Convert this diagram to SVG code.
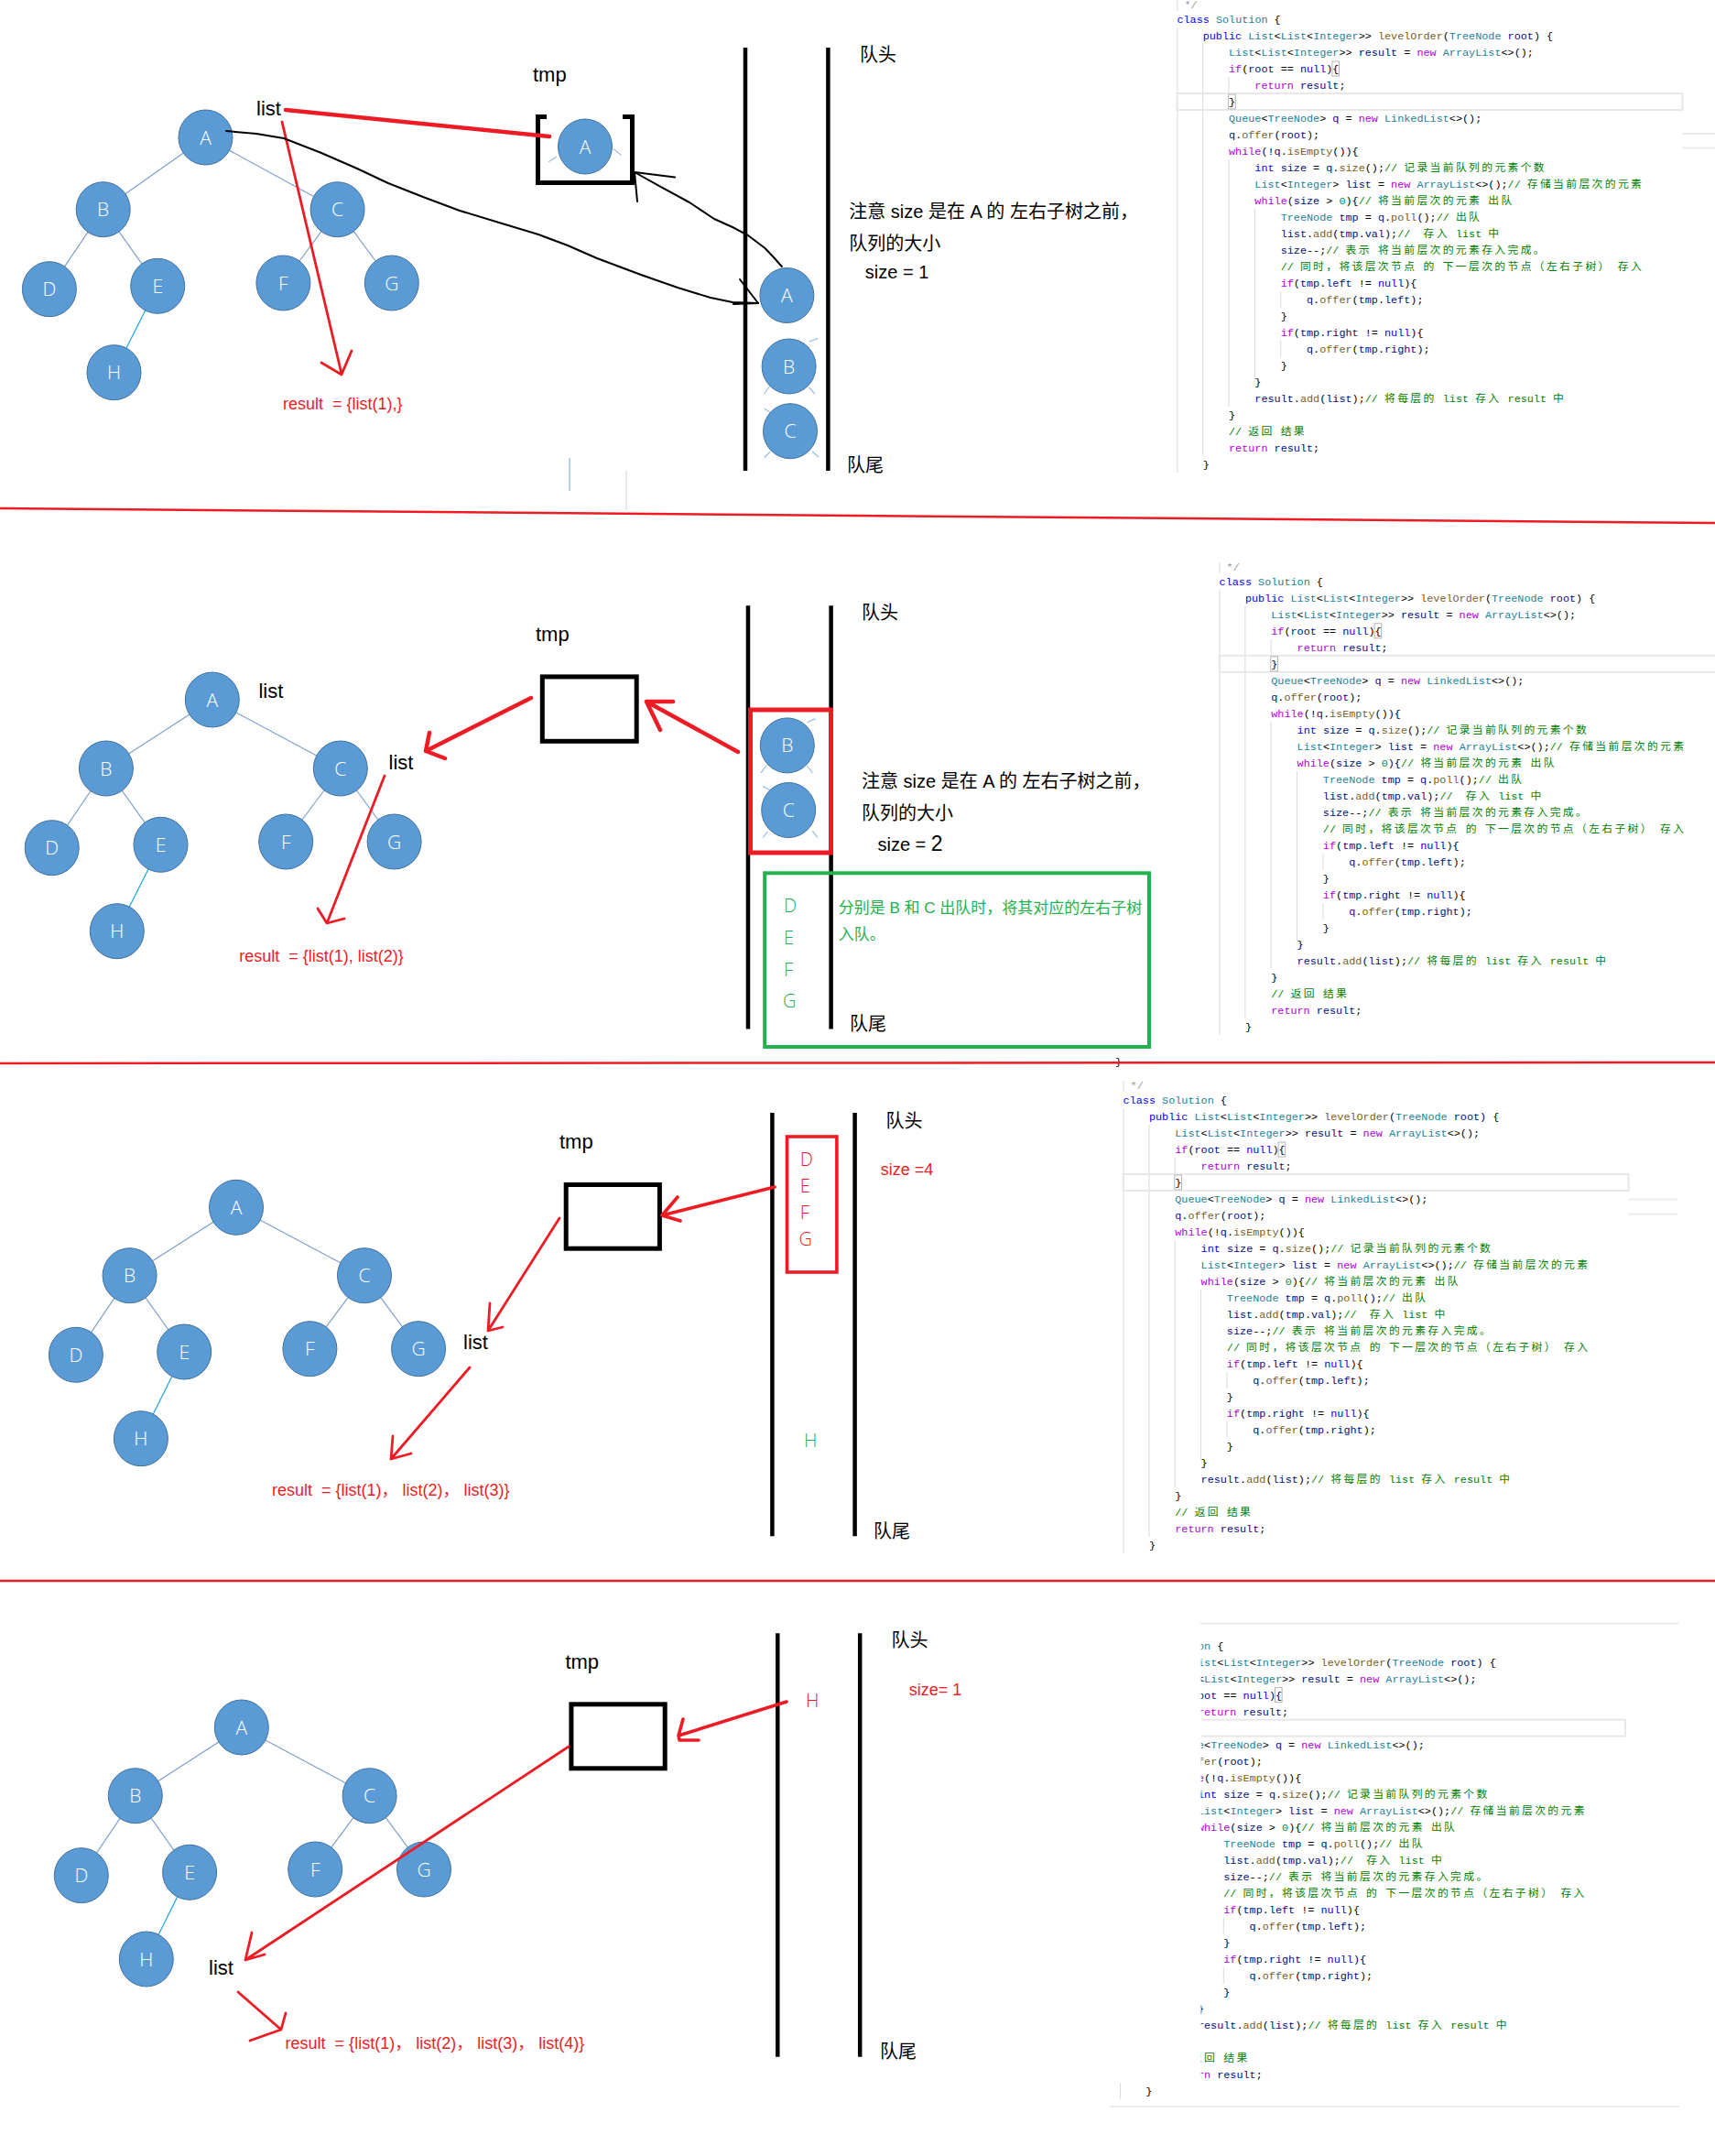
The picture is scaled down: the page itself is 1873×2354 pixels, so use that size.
<svg xmlns="http://www.w3.org/2000/svg" width="1873" height="2354" viewBox="0 0 1873 2354">
<style>
.nd ellipse{fill:#5B9BD5;stroke:#41719C;stroke-width:1}
.nd text{fill:#fff;font-family:"Open Sans","Liberation Sans",sans-serif;font-weight:300;font-size:21px;text-anchor:middle}
.edge{stroke:#7EA0CB;stroke-width:1.2}
.edgeH{stroke:#1BA1E2;stroke-width:1.2}
.stub{stroke:#9DBBE0;stroke-width:1.2;fill:none}
.lbl{font-family:"Liberation Sans","Noto Sans CJK SC",sans-serif;font-size:22px;fill:#000}
.cn{font-family:"Liberation Sans","Noto Sans CJK SC",sans-serif;font-size:20px;fill:#000;white-space:pre}
.res{font-family:"Liberation Sans","Noto Sans CJK SC",sans-serif;font-size:18px;fill:#ED1C24;white-space:pre}
.gt{font-family:"Liberation Sans","Noto Sans CJK SC",sans-serif;font-size:17px;fill:#22B14C}
.lt{font-family:"Open Sans","Liberation Sans",sans-serif;font-weight:300;font-size:20px}
.q{stroke:#000;stroke-width:4.5}
.box{fill:none;stroke:#000;stroke-width:5}
.rt{stroke:#ED1C24;fill:none;stroke-linecap:round;stroke-linejoin:round}
.thick{stroke-width:4.5}
.mid{stroke-width:3.6}
.thin{stroke-width:2.8}
.blk{stroke:#000;fill:none;stroke-width:2;stroke-linejoin:round;stroke-linecap:round}
.code{font-family:"Liberation Mono","Noto Sans CJK SC",monospace;font-size:11.8px;fill:#000;white-space:pre}
.k{fill:#0000FF}.t{fill:#267F99}.c{fill:#AF00DB}.v{fill:#001080}.f{fill:#795E26}.n{fill:#098658}.g{fill:#008000}.z{letter-spacing:2.36px}.gr{fill:#999}
.guide{stroke:#d9d9d9;stroke-width:1;fill:none}
.hl{fill:none;stroke:#e8e8e8;stroke-width:2}
.bm{fill:none;stroke:#b5b5b5;stroke-width:1}
.sep{stroke:#ED1C24;stroke-width:2.5}
.faint{stroke:#ececec;stroke-width:2;fill:none}
</style>
<defs>
<g id="code">
<path class="guide" d="M0.5,-21V-9M0.5,9V495M28.3,27V477M56.6,63V81M56.6,153V423M85,207V393M113.3,297V315M113.3,351V369"/>
<rect class="hl" x="0" y="81" width="552" height="18"/>
<rect class="bm" x="169.5" y="46" width="7.6" height="16"/>
<rect class="bm" x="56.2" y="82" width="7.6" height="16"/>
<text class="code gr" x="8" y="-12">*/</text>
<text class="code" x="0" y="4"><tspan class="k">class</tspan> <tspan class="t">Solution</tspan> {</text>
<text class="code" x="28.32" y="22"><tspan class="k">public</tspan> <tspan class="t">List</tspan>&lt;<tspan class="t">List</tspan>&lt;<tspan class="t">Integer</tspan>&gt;&gt; <tspan class="f">levelOrder</tspan>(<tspan class="t">TreeNode</tspan> <tspan class="v">root</tspan>) {</text>
<text class="code" x="56.64" y="40"><tspan class="t">List</tspan>&lt;<tspan class="t">List</tspan>&lt;<tspan class="t">Integer</tspan>&gt;&gt; <tspan class="v">result</tspan> = <tspan class="c">new</tspan> <tspan class="t">ArrayList</tspan>&lt;&gt;();</text>
<text class="code" x="56.64" y="58"><tspan class="c">if</tspan>(<tspan class="v">root</tspan> == <tspan class="k">null</tspan>){</text>
<text class="code" x="84.96" y="76"><tspan class="c">return</tspan> <tspan class="v">result</tspan>;</text>
<text class="code" x="56.64" y="94">}</text>
<text class="code" x="56.64" y="112"><tspan class="t">Queue</tspan>&lt;<tspan class="t">TreeNode</tspan>&gt; <tspan class="v">q</tspan> = <tspan class="c">new</tspan> <tspan class="t">LinkedList</tspan>&lt;&gt;();</text>
<text class="code" x="56.64" y="130"><tspan class="v">q</tspan>.<tspan class="f">offer</tspan>(<tspan class="v">root</tspan>);</text>
<text class="code" x="56.64" y="148"><tspan class="c">while</tspan>(!<tspan class="v">q</tspan>.<tspan class="f">isEmpty</tspan>()){</text>
<text class="code" x="84.96" y="166"><tspan class="k">int</tspan> <tspan class="v">size</tspan> = <tspan class="v">q</tspan>.<tspan class="f">size</tspan>();<tspan class="g">// <tspan class="z">记录当前队列的元素个数</tspan></tspan></text>
<text class="code" x="84.96" y="184"><tspan class="t">List</tspan>&lt;<tspan class="t">Integer</tspan>&gt; <tspan class="v">list</tspan> = <tspan class="c">new</tspan> <tspan class="t">ArrayList</tspan>&lt;&gt;();<tspan class="g">// <tspan class="z">存储当前层次的元素</tspan></tspan></text>
<text class="code" x="84.96" y="202"><tspan class="c">while</tspan>(<tspan class="v">size</tspan> &gt; <tspan class="n">0</tspan>){<tspan class="g">// <tspan class="z">将当前层次的元素</tspan> <tspan class="z">出队</tspan></tspan></text>
<text class="code" x="113.28" y="220"><tspan class="t">TreeNode</tspan> <tspan class="v">tmp</tspan> = <tspan class="v">q</tspan>.<tspan class="f">poll</tspan>();<tspan class="g">// <tspan class="z">出队</tspan></tspan></text>
<text class="code" x="113.28" y="238"><tspan class="v">list</tspan>.<tspan class="f">add</tspan>(<tspan class="v">tmp</tspan>.<tspan class="v">val</tspan>);<tspan class="g">//  <tspan class="z">存入</tspan> list <tspan class="z">中</tspan></tspan></text>
<text class="code" x="113.28" y="256"><tspan class="v">size</tspan>--;<tspan class="g">// <tspan class="z">表示</tspan> <tspan class="z">将当前层次的元素存入完成。</tspan></tspan></text>
<text class="code" x="113.28" y="274"><tspan class="g">// <tspan class="z">同时，将该层次节点</tspan> <tspan class="z">的</tspan> <tspan class="z">下一层次的节点（左右子树）</tspan> <tspan class="z">存入</tspan></tspan></text>
<text class="code" x="113.28" y="292"><tspan class="c">if</tspan>(<tspan class="v">tmp</tspan>.<tspan class="v">left</tspan> != <tspan class="k">null</tspan>){</text>
<text class="code" x="141.6" y="310"><tspan class="v">q</tspan>.<tspan class="f">offer</tspan>(<tspan class="v">tmp</tspan>.<tspan class="v">left</tspan>);</text>
<text class="code" x="113.28" y="328">}</text>
<text class="code" x="113.28" y="346"><tspan class="c">if</tspan>(<tspan class="v">tmp</tspan>.<tspan class="v">right</tspan> != <tspan class="k">null</tspan>){</text>
<text class="code" x="141.6" y="364"><tspan class="v">q</tspan>.<tspan class="f">offer</tspan>(<tspan class="v">tmp</tspan>.<tspan class="v">right</tspan>);</text>
<text class="code" x="113.28" y="382">}</text>
<text class="code" x="84.96" y="400">}</text>
<text class="code" x="84.96" y="418"><tspan class="v">result</tspan>.<tspan class="f">add</tspan>(<tspan class="v">list</tspan>);<tspan class="g">// <tspan class="z">将每层的</tspan> list <tspan class="z">存入</tspan> result <tspan class="z">中</tspan></tspan></text>
<text class="code" x="56.64" y="436">}</text>
<text class="code" x="56.64" y="454"><tspan class="g">// <tspan class="z">返回</tspan> <tspan class="z">结果</tspan></tspan></text>
<text class="code" x="56.64" y="472"><tspan class="c">return</tspan> <tspan class="v">result</tspan>;</text>
<text class="code" x="28.32" y="490">}</text>
</g>
<clipPath id="clip4"><rect x="1311.6" y="1740" width="562" height="600"/><rect x="1200" y="2274" width="673" height="40"/></clipPath>
</defs>

<rect x="0" y="0" width="1873" height="2354" fill="#fff"/>

<!-- code panels -->
<g id="code-panel-1"><use href="#code" transform="translate(1285.4,21)"/><path class="faint" d="M1837,146H1873M1837,161.6H1873"/></g>
<g id="code-panel-2"><use href="#code" transform="translate(1331.6,634.8)"/></g>
<g id="code-panel-3"><text class="code" x="1218" y="1163">}</text><use href="#code" transform="translate(1226.6,1201)"/><path class="faint" d="M1778,1309.6H1832M1778,1325.7H1832"/></g>
<g id="code-panel-4"><g clip-path="url(#clip4)"><use href="#code" transform="translate(1223,1796.6)"/></g><path class="faint" d="M1311,1772.5H1834M1212,2300H1834"/></g>

<!-- separators -->
<g id="separators">
<line class="sep" x1="0" y1="555" x2="1873" y2="571"/>
<line class="sep" x1="0" y1="1161" x2="1873" y2="1160"/>
<line class="sep" x1="0" y1="1726" x2="1873" y2="1726"/>
</g>

<!-- connectors -->
<g id="connectors">
<line class="edge" x1="224.5" y1="150" x2="112.7" y2="228.7"/>
<line class="edge" x1="224.5" y1="150" x2="368.6" y2="228.7"/>
<line class="edge" x1="112.7" y1="228.7" x2="53.9" y2="315.7"/>
<line class="edge" x1="112.7" y1="228.7" x2="172.2" y2="312.3"/>
<line class="edge" x1="368.6" y1="228.7" x2="309.4" y2="309"/>
<line class="edge" x1="368.6" y1="228.7" x2="427.8" y2="309"/>
<line class="edgeH" x1="172.2" y1="312.3" x2="124.5" y2="406.7"/>
<line class="edge" x1="231.8" y1="764" x2="115.9" y2="839"/>
<line class="edge" x1="231.8" y1="764" x2="371.8" y2="839"/>
<line class="edge" x1="115.9" y1="839" x2="56.7" y2="925.7"/>
<line class="edge" x1="115.9" y1="839" x2="175.5" y2="922.3"/>
<line class="edge" x1="371.8" y1="839" x2="312.2" y2="919"/>
<line class="edge" x1="371.8" y1="839" x2="430.6" y2="919"/>
<line class="edgeH" x1="175.5" y1="922.3" x2="127.8" y2="1016.7"/>
<line class="edge" x1="258" y1="1318.3" x2="141.6" y2="1392.7"/>
<line class="edge" x1="258" y1="1318.3" x2="398" y2="1392.7"/>
<line class="edge" x1="141.6" y1="1392.7" x2="82.9" y2="1479.3"/>
<line class="edge" x1="141.6" y1="1392.7" x2="201.2" y2="1476"/>
<line class="edge" x1="398" y1="1392.7" x2="338.4" y2="1472.7"/>
<line class="edge" x1="398" y1="1392.7" x2="457.1" y2="1472.7"/>
<line class="edgeH" x1="201.2" y1="1476" x2="153.9" y2="1570.7"/>
<line class="edge" x1="263.8" y1="1886" x2="147.8" y2="1960.7"/>
<line class="edge" x1="263.8" y1="1886" x2="403.6" y2="1960.7"/>
<line class="edge" x1="147.8" y1="1960.7" x2="88.8" y2="2047.7"/>
<line class="edge" x1="147.8" y1="1960.7" x2="207.1" y2="2044.3"/>
<line class="edge" x1="403.6" y1="1960.7" x2="344.2" y2="2041"/>
<line class="edge" x1="403.6" y1="1960.7" x2="463" y2="2041"/>
<line class="edgeH" x1="207.1" y1="2044.3" x2="159.8" y2="2139"/>
<path class="stub" d="M599,176.8L608,171M670,162.5L678.5,169.6M883.7,373L893,369.6M834.6,430L841,421M883.7,423L889.7,430M834.6,446L842,450.7M834.6,500L841,493M887,493L894,499M881.4,788.7L890.6,784.6M831,843.8L837.8,835M881.4,836L887.4,843.8M833,858.6L841,862.8M833.2,914.4L838.7,907.5M887.4,907.5L893,914.4"/>
<path d="M622,500V536" stroke="#9DC3E6" stroke-width="1.5"/>
<path d="M684,514V557" stroke="#e3e3e3" stroke-width="1.5"/>
</g>

<!-- panel 1 -->
<g id="p1-queue">
<line class="q" x1="814" y1="52" x2="814" y2="514"/>
<line class="q" x1="904.4" y1="52" x2="904.4" y2="514"/>
</g>
<g id="p1-tmp"><path class="box" d="M597,127.5H587.5V199.5H690.5V127.5H680"/></g>
<g id="p1-nodes">
<g id="p1-A" class="nd"><ellipse cx="224.5" cy="150" rx="29.5" ry="30"/><text x="224.5" y="157.5">A</text></g>
<g id="p1-B" class="nd"><ellipse cx="112.7" cy="228.7" rx="29.5" ry="30"/><text x="112.7" y="236.2">B</text></g>
<g id="p1-C" class="nd"><ellipse cx="368.6" cy="228.7" rx="29.5" ry="30"/><text x="368.6" y="236.2">C</text></g>
<g id="p1-D" class="nd"><ellipse cx="53.9" cy="315.7" rx="29.5" ry="30"/><text x="53.9" y="323.2">D</text></g>
<g id="p1-E" class="nd"><ellipse cx="172.2" cy="312.3" rx="29.5" ry="30"/><text x="172.2" y="319.8">E</text></g>
<g id="p1-F" class="nd"><ellipse cx="309.4" cy="309" rx="29.5" ry="30"/><text x="309.4" y="316.5">F</text></g>
<g id="p1-G" class="nd"><ellipse cx="427.8" cy="309" rx="29.5" ry="30"/><text x="427.8" y="316.5">G</text></g>
<g id="p1-H" class="nd"><ellipse cx="124.5" cy="406.7" rx="29.5" ry="30"/><text x="124.5" y="414.2">H</text></g>
<g id="p1-tmpA" class="nd"><ellipse cx="639" cy="160" rx="29.5" ry="30"/><text x="639" y="167.5">A</text></g>
<g id="p1-qA" class="nd"><ellipse cx="859.4" cy="322.5" rx="29.5" ry="30"/><text x="859.4" y="330">A</text></g>
<g id="p1-qB" class="nd"><ellipse cx="861.6" cy="400" rx="29.5" ry="30"/><text x="861.6" y="407.5">B</text></g>
<g id="p1-qC" class="nd"><ellipse cx="863" cy="470.7" rx="29.5" ry="30"/><text x="863" y="478.2">C</text></g>
</g>
<g id="p1-arrows">
<path class="rt thick" d="M312,120L600,149"/>
<path class="rt thin" d="M308,133L373,408M351,396L373,409L384,383"/>
<polyline class="blk" points="247,143 280,146 310,151 351,167 390,184 424,200 462,215 502,230 545,243 588,256 620,268 652,282 700,300 740,314 776,325 800,330 828,331"/>
<path class="blk" d="M808,305L828,331M801,332L828,331"/>
<polyline class="blk" points="853.8,291 845,281 835.5,271 817,257 800,248 780,239 753,221 721,203.6 693,188"/>
<path class="blk" d="M693,188L737,193.6M693,188L696,220"/>
</g>
<g id="p1-labels">
<text class="lbl" x="280" y="126">list</text>
<text class="lbl" x="582" y="89">tmp</text>
<text class="cn" x="939" y="66.6">队头</text>
<text class="cn" x="925" y="514.6">队尾</text>
<text class="cn" x="927.3" y="237.6">注意 size 是在 A 的 左右子树之前，</text>
<text class="cn" x="927.3" y="273.3">队列的大小</text>
<text class="cn" x="944.8" y="304">size = 1</text>
<text class="res" x="309" y="446.5">result  = {list(1),}</text>
</g>

<!-- panel 2 -->
<g id="p2-queue">
<line class="q" x1="817" y1="661.3" x2="817" y2="1123.4"/>
<line class="q" x1="907.6" y1="661.3" x2="907.6" y2="1123.4"/>
</g>
<g id="p2-tmp"><rect class="box" x="592.3" y="738.9" width="102.9" height="70.4"/></g>
<g id="p2-nodes">
<g id="p2-A" class="nd"><ellipse cx="231.8" cy="764" rx="29.5" ry="30"/><text x="231.8" y="771.5">A</text></g>
<g id="p2-B" class="nd"><ellipse cx="115.9" cy="839" rx="29.5" ry="30"/><text x="115.9" y="846.5">B</text></g>
<g id="p2-C" class="nd"><ellipse cx="371.8" cy="839" rx="29.5" ry="30"/><text x="371.8" y="846.5">C</text></g>
<g id="p2-D" class="nd"><ellipse cx="56.7" cy="925.7" rx="29.5" ry="30"/><text x="56.7" y="933.2">D</text></g>
<g id="p2-E" class="nd"><ellipse cx="175.5" cy="922.3" rx="29.5" ry="30"/><text x="175.5" y="929.8">E</text></g>
<g id="p2-F" class="nd"><ellipse cx="312.2" cy="919" rx="29.5" ry="30"/><text x="312.2" y="926.5">F</text></g>
<g id="p2-G" class="nd"><ellipse cx="430.6" cy="919" rx="29.5" ry="30"/><text x="430.6" y="926.5">G</text></g>
<g id="p2-H" class="nd"><ellipse cx="127.8" cy="1016.7" rx="29.5" ry="30"/><text x="127.8" y="1024.2">H</text></g>
<g id="p2-qB" class="nd"><ellipse cx="859.8" cy="813.9" rx="29.5" ry="30"/><text x="859.8" y="821.4">B</text></g>
<g id="p2-qC" class="nd"><ellipse cx="861.2" cy="884.5" rx="29.5" ry="30"/><text x="861.2" y="892">C</text></g>
</g>
<g id="p2-frames">
<rect x="819.5" y="775" width="88" height="156" fill="none" stroke="#ED1C24" stroke-width="5"/>
<rect x="835.2" y="953.3" width="419.8" height="189.7" fill="none" stroke="#22B14C" stroke-width="4"/>
</g>
<g id="p2-arrows">
<path class="rt thick" d="M580,762L465,820M469,800L465,820L486,828"/>
<path class="rt thick" d="M806,821L706,766M721,797L706,766L735,766"/>
<path class="rt thin" d="M420,847L357,1008M347,992L357,1008L376,1003"/>
</g>
<g id="p2-labels">
<text class="lbl" x="282.4" y="762">list</text>
<text class="lbl" x="424.5" y="839.5">list</text>
<text class="lbl" x="585" y="700">tmp</text>
<text class="cn" x="941" y="675.8">队头</text>
<text class="cn" x="928" y="1125.3">队尾</text>
<text class="cn" x="941" y="860">注意 size 是在 A 的 左右子树之前，</text>
<text class="cn" x="941" y="894.7">队列的大小</text>
<text class="cn" x="958.5" y="929">size = <tspan font-size="23">2</tspan></text>
<text class="lt" x="856" y="995.5" fill="#22B14C">D</text>
<text class="lt" x="856" y="1030.6" fill="#22B14C">E</text>
<text class="lt" x="856" y="1065.7" fill="#22B14C">F</text>
<text class="lt" x="855" y="1100" fill="#22B14C">G</text>
<text class="gt" x="915.8" y="996.5">分别是 B 和 C 出队时，将其对应的左右子树</text>
<text class="gt" x="915.8" y="1025.7">入队。</text>
<text class="res" x="261.2" y="1050">result  = {list(1), list(2)}</text>
</g>

<!-- panel 3 -->
<g id="p3-queue">
<line class="q" x1="843.4" y1="1215" x2="843.4" y2="1677.3"/>
<line class="q" x1="933.6" y1="1215" x2="933.6" y2="1677.3"/>
</g>
<g id="p3-tmp"><rect class="box" x="618.2" y="1293.5" width="102.2" height="69.7"/></g>
<g id="p3-nodes">
<g id="p3-A" class="nd"><ellipse cx="258" cy="1318.3" rx="29.5" ry="30"/><text x="258" y="1325.8">A</text></g>
<g id="p3-B" class="nd"><ellipse cx="141.6" cy="1392.7" rx="29.5" ry="30"/><text x="141.6" y="1400.2">B</text></g>
<g id="p3-C" class="nd"><ellipse cx="398" cy="1392.7" rx="29.5" ry="30"/><text x="398" y="1400.2">C</text></g>
<g id="p3-D" class="nd"><ellipse cx="82.9" cy="1479.3" rx="29.5" ry="30"/><text x="82.9" y="1486.8">D</text></g>
<g id="p3-E" class="nd"><ellipse cx="201.2" cy="1476" rx="29.5" ry="30"/><text x="201.2" y="1483.5">E</text></g>
<g id="p3-F" class="nd"><ellipse cx="338.4" cy="1472.7" rx="29.5" ry="30"/><text x="338.4" y="1480.2">F</text></g>
<g id="p3-G" class="nd"><ellipse cx="457.1" cy="1472.7" rx="29.5" ry="30"/><text x="457.1" y="1480.2">G</text></g>
<g id="p3-H" class="nd"><ellipse cx="153.9" cy="1570.7" rx="29.5" ry="30"/><text x="153.9" y="1578.2">H</text></g>
</g>
<g id="p3-frames"><rect x="859.5" y="1241" width="54.4" height="148" fill="none" stroke="#ED1C24" stroke-width="3.6"/></g>
<g id="p3-arrows">
<path class="rt thin" d="M611,1330L533,1453M535,1423L533,1453L549,1449"/>
<path class="rt thin" d="M513,1493L427,1593M429,1568L427,1593L449,1587"/>
<path class="rt mid" d="M846,1296L723,1327M740,1307L723,1327L743,1333"/>
</g>
<g id="p3-labels">
<text class="lbl" x="506" y="1473">list</text>
<text class="lbl" x="611" y="1254">tmp</text>
<text class="cn" x="967.5" y="1231">队头</text>
<text class="cn" x="954" y="1679.3">队尾</text>
<text class="lt" x="873.8" y="1273.3" fill="#ED1C24">D</text>
<text class="lt" x="873.8" y="1301.7" fill="#ED1C24">E</text>
<text class="lt" x="873.8" y="1330.7" fill="#ED1C24">F</text>
<text class="lt" x="872.5" y="1360" fill="#ED1C24">G</text>
<text class="lt" x="878" y="1580" fill="#22B14C">H</text>
<text class="res" x="961.7" y="1282.7">size =4</text>
<text class="res" x="297" y="1633">result  = {list(1)， list(2)， list(3)}</text>
</g>

<!-- panel 4 -->
<g id="p4-queue">
<line class="q" x1="849.3" y1="1783.3" x2="849.3" y2="2245.7"/>
<line class="q" x1="939.2" y1="1783.3" x2="939.2" y2="2245.7"/>
</g>
<g id="p4-tmp"><rect class="box" x="623.9" y="1860.8" width="102.3" height="70"/></g>
<g id="p4-nodes">
<g id="p4-A" class="nd"><ellipse cx="263.8" cy="1886" rx="29.5" ry="30"/><text x="263.8" y="1893.5">A</text></g>
<g id="p4-B" class="nd"><ellipse cx="147.8" cy="1960.7" rx="29.5" ry="30"/><text x="147.8" y="1968.2">B</text></g>
<g id="p4-C" class="nd"><ellipse cx="403.6" cy="1960.7" rx="29.5" ry="30"/><text x="403.6" y="1968.2">C</text></g>
<g id="p4-D" class="nd"><ellipse cx="88.8" cy="2047.7" rx="29.5" ry="30"/><text x="88.8" y="2055.2">D</text></g>
<g id="p4-E" class="nd"><ellipse cx="207.1" cy="2044.3" rx="29.5" ry="30"/><text x="207.1" y="2051.8">E</text></g>
<g id="p4-F" class="nd"><ellipse cx="344.2" cy="2041" rx="29.5" ry="30"/><text x="344.2" y="2048.5">F</text></g>
<g id="p4-G" class="nd"><ellipse cx="463" cy="2041" rx="29.5" ry="30"/><text x="463" y="2048.5">G</text></g>
<g id="p4-H" class="nd"><ellipse cx="159.8" cy="2139" rx="29.5" ry="30"/><text x="159.8" y="2146.5">H</text></g>
</g>
<g id="p4-arrows">
<path class="rt thin" d="M621,1907L268,2140M275,2110L268,2140L289,2134"/>
<path class="rt thin" d="M260,2175L307,2216M312,2198L307,2216L273,2228"/>
<path class="rt mid" d="M859,1858L741,1895M746,1877L741,1895L742,1900L763,1900"/>
</g>
<g id="p4-labels">
<text class="lbl" x="228" y="2156">list</text>
<text class="lbl" x="617.4" y="1822">tmp</text>
<text class="cn" x="973.6" y="1798">队头</text>
<text class="cn" x="961" y="2247">队尾</text>
<text class="lt" x="879.9" y="1864.3" fill="#ED1C24">H</text>
<text class="res" x="992.8" y="1851">size= 1</text>
<text class="res" x="311.6" y="2237">result  = {list(1)， list(2)， list(3)， list(4)}</text>
</g>
</svg>
